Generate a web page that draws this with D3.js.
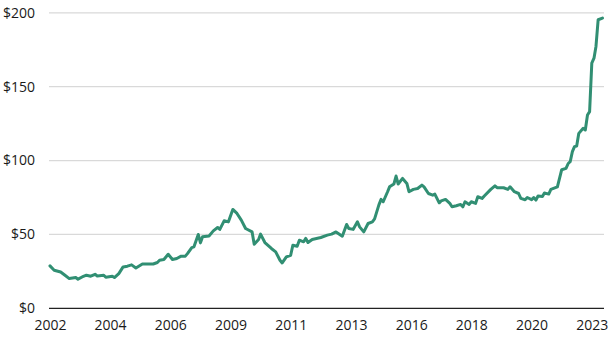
<!DOCTYPE html>
<html><head><meta charset="utf-8">
<script src="https://cdn.jsdelivr.net/npm/d3@7"></script>
<style>html,body{margin:0;padding:0;background:#fff;}svg{display:block;}</style>
</head><body>
<svg id="c" width="610" height="346"></svg>
<script>
const months = ["2002-01","2002-03","2002-06","2002-08","2002-10","2003-01","2003-02","2003-04","2003-06","2003-08","2003-10","2003-11","2004-02","2004-03","2004-06","2004-07","2004-09","2004-11","2005-01","2005-03","2005-05","2005-08","2006-01","2006-03","2006-04","2006-06","2006-08","2006-10","2006-12","2007-02","2007-04","2007-05","2007-07","2007-08","2007-10","2007-11","2007-12","2008-03","2008-05","2008-07","2008-08","2008-10","2008-12","2009-02","2009-04","2009-06","2009-08","2009-11","2009-12","2010-02","2010-03","2010-05","2010-08","2010-10","2010-12","2011-01","2011-03","2011-05","2011-06","2011-08","2011-09","2011-11","2011-12","2012-01","2012-03","2012-07","2012-10","2012-12","2013-02","2013-05","2013-07","2013-08","2013-10","2013-12","2014-01","2014-03","2014-05","2014-07","2014-08","2014-10","2014-11","2014-12","2015-02","2015-03","2015-05","2015-06","2015-07","2015-09","2015-11","2015-12","2016-02","2016-04","2016-06","2016-07","2016-09","2016-11","2016-12","2017-02","2017-03","2017-05","2017-07","2017-08","2017-10","2017-12","2018-01","2018-02","2018-04","2018-05","2018-07","2018-08","2018-10","2018-11","2019-02","2019-04","2019-05","2019-08","2019-10","2019-11","2020-01","2020-03","2020-04","2020-06","2020-07","2020-09","2020-10","2020-11","2020-12","2021-02","2021-03","2021-05","2021-06","2021-09","2021-10","2021-11","2022-01","2022-02","2022-03","2022-04","2022-05","2022-06","2022-07","2022-09","2022-10","2022-11","2022-12","2023-01","2023-02","2023-03","2023-04","2023-06"];
const values = [28.7,25.8,24.6,22.4,20.1,20.8,19.7,21.2,22.4,21.7,23,21.9,22.4,21,21.7,20.8,23.5,28,28.5,29.4,27.3,30,30,31,32.5,33,36.6,33,33.7,35.3,35.3,37,41.1,41.6,50,44.3,48.4,49,52.4,54.7,53.4,59.2,58.5,66.9,64.2,59.7,54,51.7,43.4,46.6,50.2,44.5,40.5,38.2,32.5,30.7,34.8,35.9,42.7,42,46.1,45,47.3,44.5,46.6,47.9,49.5,50.2,51.7,48.8,56.7,54,53.4,58.5,55.1,51.7,57.4,58.5,60.5,70,73.7,72.1,78.9,82.2,84.1,89.5,84.1,87.9,84.5,78.9,80.5,81.1,83.4,82.2,77.7,76.6,77.3,71.4,72.7,73.7,71,68.7,69.4,70.3,68.7,72.1,70.3,72.1,71,75.5,74.4,76,80.5,82.9,81.6,81.6,80.5,82.2,78.9,77.7,74.4,73.5,75,73.5,75,73.2,76,75.7,78,77.3,80.5,82.2,87.9,93.8,94.7,98,99.2,106,109.4,109.8,118.4,121.8,120.7,130.8,133.1,165.9,169.3,177.2,195.3,196.4];
const xTickDates = ["2002-01","2004-05","2006-09","2009-01","2011-05","2013-09","2016-01","2018-05","2020-09","2023-01"];
const yTicks = [0,50,100,150,200];

const parse = d3.timeParse("%Y-%m");
const data = months.map((m,i)=>({d:parse(m), v:values[i]}));

const svg = d3.select("#c");
const x = d3.scaleTime().domain([parse("2002-01"), parse("2023-01")]).range([50, 591.8]);
const y = d3.scaleLinear().domain([0,200]).range([308.3, 12.8]);
const gridX0 = 49, gridX1 = 604;
const font = "'Open Sans', sans-serif";

// gridlines
svg.append("g").selectAll("line").data(yTicks.filter(t=>t>0)).join("line")
  .attr("x1", gridX0).attr("x2", gridX1)
  .attr("y1", d=>y(d)).attr("y2", d=>y(d))
  .attr("stroke", "#d9d9d9").attr("stroke-width", 1.2);

// y labels
svg.append("g").selectAll("text").data(yTicks).join("text")
  .attr("x", 35).attr("y", d=>y(d)).attr("dy","0.35em")
  .attr("text-anchor","end")
  .attr("font-family", font).attr("font-size", 14).attr("fill","#1a1a1a")
  .text(d=>"$"+d);

// x axis
const xAxis = d3.axisBottom(x)
  .tickValues(xTickDates.map(parse))
  .tickFormat(d3.timeFormat("%Y"))
  .tickSize(0).tickPadding(12);
const gx = svg.append("g").attr("transform", `translate(0,${y(0)})`).call(xAxis);
gx.select(".domain").remove();
gx.selectAll("text").attr("font-family", font).attr("font-size", 14).attr("fill","#1a1a1a");
svg.append("line").attr("x1", gridX0).attr("x2", gridX1)
  .attr("y1", y(0)).attr("y2", y(0)).attr("stroke","#222").attr("stroke-width",1.3);

// line
const line = d3.line().x(d=>x(d.d)).y(d=>y(d.v));
svg.append("path").datum(data)
  .attr("d", line).attr("fill","none")
  .attr("stroke","#318f73").attr("stroke-width",3)
  .attr("stroke-linejoin","round").attr("stroke-linecap","round");
</script>
</body></html>
